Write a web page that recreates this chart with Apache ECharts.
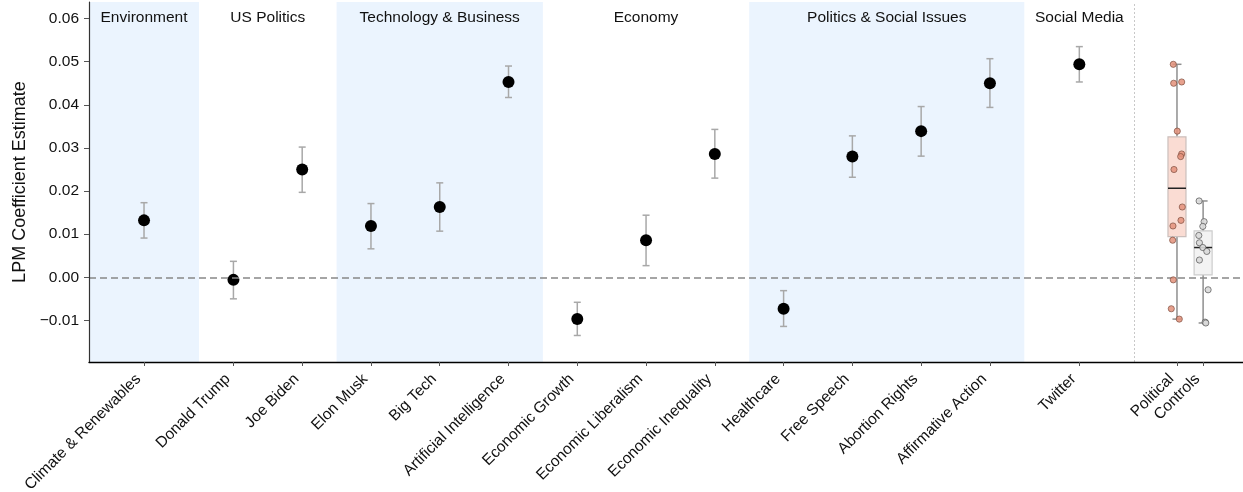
<!DOCTYPE html>
<html>
<head>
<meta charset="utf-8">
<title>LPM Coefficient Estimates by Topic</title>
<script src="https://cdn.jsdelivr.net/npm/echarts@6/dist/echarts.min.js"></script>
<style>
  html, body { margin: 0; padding: 0; background: #ffffff; }
  #chart { width: 1243px; height: 492px; }
</style>
</head>
<body>
<div id="chart"></div>
<script>
// ---- data ----
const groupNames = ['Environment', 'US Politics', 'Technology & Business', 'Economy', 'Politics & Social Issues', 'Social Media'];
const groupSizes = [1, 2, 3, 3, 4, 1];
const groupShaded = [true, false, true, false, true, false];

const topics = [
  'Climate & Renewables', 'Donald Trump', 'Joe Biden', 'Elon Musk', 'Big Tech',
  'Artificial Intelligence', 'Economic Growth', 'Economic Liberalism', 'Economic Inequality',
  'Healthcare', 'Free Speech', 'Abortion Rights', 'Affirmative Action', 'Twitter'
];
const estimates = [0.0132, -0.0006, 0.0250, 0.0119, 0.0163, 0.0453, -0.0097, 0.0086, 0.0286, -0.0073, 0.0280, 0.0339, 0.0450, 0.0494];
const ciLower   = [0.0091, -0.0050, 0.0197, 0.0066, 0.0107, 0.0417, -0.0135, 0.0027, 0.0230, -0.0114, 0.0232, 0.0281, 0.0394, 0.0453];
const ciUpper   = [0.0173, 0.0037, 0.0302, 0.0171, 0.0219, 0.0490, -0.0058, 0.0144, 0.0343, -0.0031, 0.0328, 0.0396, 0.0507, 0.0535];

const controlEstimates = [0.0177, 0.0129, 0.0118, 0.0097, 0.0080, 0.0069, 0.0060, 0.0040, -0.0029, -0.0104, -0.0106];
const boxLabels = ['Political', 'Controls'];

const yTickValues = [-0.01, 0.00, 0.01, 0.02, 0.03, 0.04, 0.05, 0.06];

// ---- layout ----
const FONT = '"Liberation Sans", Arial, Helvetica, sans-serif';
const SINGLE_GROUP_WIDTH = 1.6;   // a one-topic group gets a wider band
const BOX_GAP = 0.62;             // distance from the separator to the first box
const BOX_STEP = 0.38;            // distance between the two boxes
const X_MAX = 16.78;
const BOX_PX = 18;
// horizontal jitter (px) of the strip points drawn over each box
const jitterPolitical = [4, -3.7, -3, -4, 5.3, 4.7, 2.3, -4.3, 4.7, -5.7, 3.7, 0.3, -3.3, -3.7];
const jitterControls = [-4, 1, -0.3, -4.3, -3.7, -0.3, 3.7, -3.7, 5, 2, 2.7];

// topic positions and group bands
const topicX = [];
const bands = [];
let cursor = 0;
groupSizes.forEach((n, g) => {
  const width = n === 1 ? SINGLE_GROUP_WIDTH : n;
  const first = cursor + (width - (n - 1)) / 2;
  for (let i = 0; i < n; i++) topicX.push(first + i);
  bands.push({ name: groupNames[g], start: cursor, end: cursor + width, shaded: groupShaded[g] });
  cursor += width;
});
const separatorX = cursor;
const boxX = [separatorX + BOX_GAP, separatorX + BOX_GAP + BOX_STEP];

const allTickX = topicX.concat(boxX);
const allTickNames = topics.concat(boxLabels);

function quantile(sorted, p) {
  const pos = (sorted.length - 1) * p;
  const lo = Math.floor(pos), hi = Math.ceil(pos);
  return sorted[lo] + (sorted[hi] - sorted[lo]) * (pos - lo);
}
function boxStats(values) {
  const s = values.slice().sort((a, b) => a - b);
  const q1 = quantile(s, 0.25), med = quantile(s, 0.5), q3 = quantile(s, 0.75);
  const iqr = q3 - q1;
  const lowFence = q1 - 1.5 * iqr, highFence = q3 + 1.5 * iqr;
  const wLo = s.find(v => v >= lowFence);
  const wHi = s.slice().reverse().find(v => v <= highFence);
  return [wLo, q1, med, q3, wHi];
}

const boxStyles = [
  { fill: '#fadcd3', stroke: '#cbbfbc' },
  { fill: '#f3f3f3', stroke: '#cccccc' }
];
const boxData = [boxStats(estimates), boxStats(controlEstimates)].map((st, i) => [boxX[i]].concat(st));

const stripData = [];
estimates.forEach((v, i) => stripData.push([boxX[0], v, jitterPolitical[i], 0]));
controlEstimates.forEach((v, i) => stripData.push([boxX[1], v, jitterControls[i], 1]));

// ---- chart ----
const chart = echarts.init(document.getElementById('chart'), null, { renderer: 'canvas' });

const option = {
  animation: false,
  backgroundColor: '#ffffff',
  textStyle: { fontFamily: FONT },
  grid: { left: 89, right: 0, top: 2, height: 360, containLabel: false, outerBoundsMode: 'none' },
  xAxis: {
    type: 'value',
    min: 0,
    max: X_MAX,
    z: 10,
    splitLine: { show: false },
    axisLine: { show: true, onZero: false, lineStyle: { color: '#000', width: 1.4 } },
    axisTick: { show: true, length: 4, lineStyle: { color: '#555', width: 1 }, customValues: allTickX },
    axisLabel: {
      customValues: allTickX,
      rotate: 45,
      margin: 9,
      padding: [0, 8, 0, 0],
      fontSize: 15.5,
      color: '#111',
      fontFamily: FONT,
      formatter: function (v) {
        let best = 0, d = Infinity;
        allTickX.forEach((x, i) => { const dd = Math.abs(x - v); if (dd < d) { d = dd; best = i; } });
        return allTickNames[best];
      }
    }
  },
  yAxis: {
    type: 'value',
    min: -0.01965,
    max: 0.06385,
    z: 10,
    name: 'LPM Coefficient Estimate',
    nameLocation: 'middle',
    nameGap: 58,
    nameRotate: 90,
    nameTextStyle: { fontSize: 18, color: '#111', fontFamily: FONT },
    splitLine: { show: false },
    axisLine: { show: true, onZero: false, lineStyle: { color: '#333', width: 1.2 } },
    axisTick: { show: true, length: 5, lineStyle: { color: '#555', width: 1 }, customValues: yTickValues },
    axisLabel: {
      customValues: yTickValues,
      margin: 10,
      fontSize: 15.5,
      color: '#111',
      fontFamily: FONT,
      formatter: v => (v < 0 ? '\u2212' : '') + Math.abs(v).toFixed(2)
    }
  },
  series: [
    // group bands, headers, zero line and separator
    {
      type: 'custom',
      silent: true,
      z: 0,
      data: [],
      renderItem: () => null,
      markArea: {
        silent: true,
        data: bands.map(b => [
          {
            name: b.name,
            xAxis: b.start,
            itemStyle: { color: b.shaded ? '#ebf4fe' : 'rgba(255,255,255,0)' },
            label: { show: true, position: 'insideTop', distance: 8, fontSize: 15.5, color: '#111', fontFamily: FONT }
          },
          { xAxis: b.end }
        ])
      },
      markLine: {
        silent: true,
        symbol: 'none',
        label: { show: false },
        data: [
          { yAxis: 0, lineStyle: { type: [7, 4], color: '#888', width: 1.5 } },
          { xAxis: separatorX, lineStyle: { type: [2, 2], color: '#c8c8c8', width: 1 } }
        ]
      }
    },
    // confidence intervals
    {
      type: 'custom',
      z: 3,
      silent: true,
      data: topicX.map((x, i) => [x, ciLower[i], ciUpper[i]]),
      encode: { x: 0, y: [1, 2] },
      renderItem: function (params, api) {
        const x = api.value(0);
        const lo = api.coord([x, api.value(1)]);
        const hi = api.coord([x, api.value(2)]);
        const cap = 3.5;
        const st = { stroke: '#a8a8a8', lineWidth: 1.5 };
        return {
          type: 'group',
          children: [
            { type: 'line', shape: { x1: lo[0], y1: lo[1], x2: hi[0], y2: hi[1] }, style: st },
            { type: 'line', shape: { x1: lo[0] - cap, y1: lo[1], x2: lo[0] + cap, y2: lo[1] }, style: st },
            { type: 'line', shape: { x1: hi[0] - cap, y1: hi[1], x2: hi[0] + cap, y2: hi[1] }, style: st }
          ]
        };
      }
    },
    // point estimates
    {
      type: 'scatter',
      z: 4,
      silent: true,
      symbol: 'circle',
      symbolSize: 12,
      itemStyle: { color: '#000', opacity: 1 },
      data: topicX.map((x, i) => [x, estimates[i]])
    },
    // box plots
    {
      type: 'custom',
      z: 3,
      silent: true,
      data: boxData,
      encode: { x: 0, y: [1, 5] },
      renderItem: function (params, api) {
        const x = api.value(0);
        const pMin = api.coord([x, api.value(1)]);
        const pQ1 = api.coord([x, api.value(2)]);
        const pMed = api.coord([x, api.value(3)]);
        const pQ3 = api.coord([x, api.value(4)]);
        const pMax = api.coord([x, api.value(5)]);
        const half = BOX_PX / 2;
        const cap = BOX_PX / 4;
        const sty = boxStyles[params.dataIndex];
        const wl = { stroke: '#8f8f8f', lineWidth: 1.5 };
        return {
          type: 'group',
          children: [
            { type: 'line', shape: { x1: pMax[0], y1: pMax[1], x2: pQ3[0], y2: pQ3[1] }, style: wl },
            { type: 'line', shape: { x1: pQ1[0], y1: pQ1[1], x2: pMin[0], y2: pMin[1] }, style: wl },
            { type: 'line', shape: { x1: pMax[0] - cap, y1: pMax[1], x2: pMax[0] + cap, y2: pMax[1] }, style: wl },
            { type: 'line', shape: { x1: pMin[0] - cap, y1: pMin[1], x2: pMin[0] + cap, y2: pMin[1] }, style: wl },
            { type: 'rect', shape: { x: pQ3[0] - half, y: pQ3[1], width: BOX_PX, height: pQ1[1] - pQ3[1] },
              style: { fill: sty.fill, stroke: sty.stroke, lineWidth: 1.2 } },
            { type: 'line', shape: { x1: pMed[0] - half, y1: pMed[1], x2: pMed[0] + half, y2: pMed[1] },
              style: { stroke: '#222', lineWidth: 1.5 } }
          ]
        };
      }
    },
    // strip points over the boxes
    {
      type: 'custom',
      z: 5,
      silent: true,
      data: stripData,
      encode: { x: 0, y: 1 },
      renderItem: function (params, api) {
        const p = api.coord([api.value(0), api.value(1)]);
        const isControl = api.value(3) === 1;
        return {
          type: 'circle',
          shape: { cx: p[0] + api.value(2), cy: p[1], r: 3.1 },
          style: isControl
            ? { fill: '#d9d9d9', stroke: '#555', lineWidth: 0.8, opacity: 0.9 }
            : { fill: '#e3917a', stroke: '#7a4a3c', lineWidth: 0.8, opacity: 0.85 }
        };
      }
    }
  ]
};

chart.setOption(option);
</script>
</body>
</html>
